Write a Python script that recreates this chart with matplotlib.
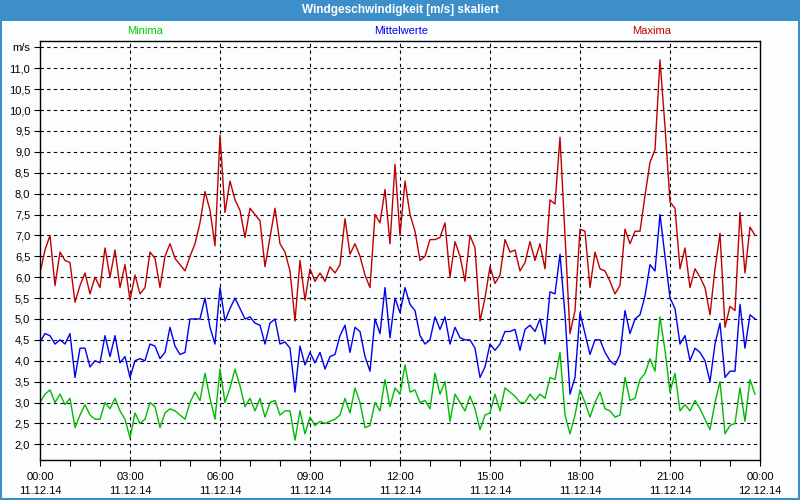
import numpy as np
import matplotlib
matplotlib.use("Agg")
import matplotlib.pyplot as plt
from matplotlib.patches import Rectangle

plt.rcParams["font.family"] = ["Liberation Sans", "DejaVu Sans"]

# 10-minute values, 11.12.14 00:00 .. 23:50
maxima = [
    6.1, 6.65, 7.0, 5.8, 6.6, 6.4, 6.35, 5.4, 5.8, 6.1, 5.6, 6.0, 5.75, 6.7, 6.0, 6.65, 5.75, 6.3,
    5.45, 6.05, 5.6, 5.75, 6.6, 6.45, 5.75, 6.5, 6.8, 6.45, 6.3, 6.15, 6.5, 6.8, 7.3, 8.05, 7.6, 6.75,
    9.4, 7.55, 8.3, 7.85, 7.6, 6.95, 7.65, 7.5, 7.35, 6.25, 6.95, 7.65, 6.8, 6.6, 6.15, 4.95, 6.4, 5.45,
    6.2, 5.9, 6.1, 5.9, 6.25, 6.1, 6.3, 7.4, 6.55, 6.8, 6.5, 6.05, 5.75, 7.5, 7.3, 8.1, 6.8, 8.7,
    7.0, 8.3, 7.5, 7.1, 6.4, 6.5, 6.9, 6.9, 6.95, 7.3, 6.0, 6.85, 6.5, 5.9, 7.0, 6.7, 4.95, 5.5,
    6.25, 5.85, 6.05, 6.9, 6.6, 6.65, 6.15, 6.35, 6.85, 6.4, 6.8, 6.2, 7.85, 7.75, 9.35, 7.0, 4.65, 5.2,
    7.15, 7.1, 5.75, 6.6, 6.2, 6.15, 5.9, 5.6, 5.8, 7.15, 6.8, 7.1, 7.1, 7.95, 8.75, 9.05, 11.2, 9.6,
    7.8, 7.65, 6.2, 6.7, 5.75, 6.2, 6.0, 5.75, 5.1, 6.2, 7.05, 4.8, 5.3, 5.2, 7.55, 6.1, 7.2, 7.0,
]
mittel = [
    4.45, 4.65, 4.6, 4.4, 4.5, 4.4, 4.65, 3.6, 4.3, 4.3, 3.85, 4.0, 3.95, 4.6, 4.1, 4.6, 3.95, 4.1,
    3.6, 4.0, 4.05, 4.0, 4.4, 4.35, 4.05, 4.2, 4.8, 4.35, 4.15, 4.2, 5.0, 5.0, 5.0, 5.5, 4.8, 4.4,
    5.75, 4.95, 5.25, 5.5, 5.25, 5.0, 5.05, 4.9, 4.85, 4.4, 4.9, 5.0, 4.4, 4.45, 4.3, 3.25, 4.35, 3.9,
    4.2, 3.95, 4.2, 3.8, 4.1, 4.15, 4.6, 4.85, 4.2, 4.8, 4.7, 4.1, 3.75, 5.0, 4.65, 5.75, 4.55, 5.5,
    5.15, 5.75, 5.35, 5.2, 4.6, 4.4, 4.5, 5.05, 4.75, 5.05, 4.4, 4.8, 4.55, 4.5, 4.5, 4.3, 3.6, 3.85,
    4.4, 4.25, 4.4, 4.7, 4.7, 4.75, 4.25, 4.75, 4.85, 4.7, 5.0, 4.4, 5.65, 5.6, 6.55, 5.1, 3.2, 3.6,
    5.15, 4.65, 4.15, 4.5, 4.5, 4.2, 4.0, 3.9, 4.15, 5.2, 4.65, 5.0, 5.1, 5.55, 6.3, 6.15, 7.5, 6.5,
    5.5, 5.25, 4.4, 4.6, 4.0, 4.3, 4.2, 4.0, 3.5, 4.4, 4.9, 3.6, 3.75, 3.75, 5.35, 4.3, 5.1, 5.0,
]
minima = [
    3.0, 3.2, 3.3, 3.0, 3.2, 2.95, 3.1, 2.4, 2.7, 2.95, 2.7, 2.6, 2.6, 3.0, 2.85, 3.1, 2.8, 2.6,
    2.15, 2.75, 2.5, 2.6, 3.0, 2.9, 2.4, 2.75, 2.85, 2.8, 2.7, 2.6, 3.0, 3.25, 3.05, 3.7, 3.1, 2.6,
    3.8, 3.0, 3.35, 3.8, 3.4, 2.9, 3.1, 2.8, 3.1, 2.65, 3.0, 3.05, 2.7, 2.8, 2.8, 2.1, 2.8, 2.25,
    2.65, 2.45, 2.55, 2.5, 2.55, 2.6, 2.7, 3.1, 2.75, 3.35, 3.0, 2.4, 2.45, 3.0, 2.8, 3.55, 2.9, 3.35,
    3.2, 3.9, 3.25, 3.3, 3.0, 3.05, 2.85, 3.7, 3.2, 3.5, 2.55, 3.2, 3.0, 2.8, 3.15, 2.85, 2.35, 2.7,
    2.75, 3.2, 2.8, 3.35, 3.25, 3.15, 3.0, 3.0, 3.2, 3.05, 3.2, 3.1, 3.6, 3.55, 4.2, 2.7, 2.25, 2.7,
    3.3, 3.0, 2.65, 3.0, 3.25, 2.85, 2.8, 2.65, 2.7, 3.6, 3.05, 3.1, 3.55, 3.7, 4.05, 3.75, 5.05, 4.25,
    3.25, 3.7, 2.8, 2.95, 2.8, 3.05, 2.85, 2.6, 2.35, 3.0, 3.5, 2.25, 2.45, 2.5, 3.35, 2.55, 3.55, 3.2,
]

hours = np.arange(len(maxima)) / 6.0
xtick_hours = [0, 3, 6, 9, 12, 15, 18, 21, 24]
xtick_labels = ["00:00\n11.12.14", "03:00\n11.12.14", "06:00\n11.12.14", "09:00\n11.12.14",
                "12:00\n11.12.14", "15:00\n11.12.14", "18:00\n11.12.14", "21:00\n11.12.14",
                "00:00\n12.12.14"]
ytick_vals = np.arange(2.0, 11.51, 0.5)
ytick_labels = [f"{v:.1f}".replace(".", ",") for v in ytick_vals[:-1]] + ["m/s"]

fig = plt.figure(figsize=(8, 5), dpi=100, facecolor="#fcfdfe")
ax = fig.add_axes([0.05, 0.08, 0.90, 0.839])
ax.set_facecolor("#fcfdfe")

ax.plot(hours, maxima, color="#c00000", lw=1)
ax.plot(hours, mittel, color="#0000ee", lw=1)
ax.plot(hours, minima, color="#00bb00", lw=1)

ax.set_xlim(0, 24)
ax.set_ylim(1.624, 11.665)
ax.set_xticks(xtick_hours)
ax.set_xticklabels(xtick_labels, fontsize=8, linespacing=1.45)
ax.set_xticks(np.arange(0, 25, 1), minor=True)
ax.set_yticks(ytick_vals)
ax.set_yticklabels(ytick_labels, fontsize=8)
ax.tick_params(axis="both", which="both", direction="out", length=4, width=0.8, pad=3)
ax.tick_params(axis="x", pad=5)

for v in ytick_vals:
    ax.axhline(v, color="black", lw=0.8, ls=(0, (3, 3)), zorder=0)
for h in xtick_hours[1:-1]:
    ax.axvline(h, color="black", lw=0.8, ls=(0, (3, 3)), zorder=0)
for s in ax.spines.values():
    s.set_linewidth(1)

ax.text(3.5, 1.023, "Minima", transform=ax.get_xaxis_transform(), color="#00cc00",
        ha="center", va="center", fontsize=8)
ax.text(12.05, 1.023, "Mittelwerte", transform=ax.get_xaxis_transform(), color="#0000ee",
        ha="center", va="center", fontsize=8)
ax.text(20.4, 1.023, "Maxima", transform=ax.get_xaxis_transform(), color="#c00000",
        ha="center", va="center", fontsize=8)

# title bar and window frame
fig.patches.append(Rectangle((0, 1 - 21 / 500), 1, 21 / 500, transform=fig.transFigure,
                             facecolor="#3c8fc8", edgecolor="none", zorder=0))
fig.patches.append(Rectangle((0.001, 0.002), 0.998, 0.997, transform=fig.transFigure,
                             facecolor="none", edgecolor="#3c8fc8", lw=1.5, zorder=1))
fig.text(0.5, 1 - 10.5 / 500, "Windgeschwindigkeit [m/s] skaliert", color="white",
         fontsize=8.5, fontweight="bold", ha="center", va="center")

fig.savefig("out.png", dpi=100, facecolor=fig.get_facecolor())
